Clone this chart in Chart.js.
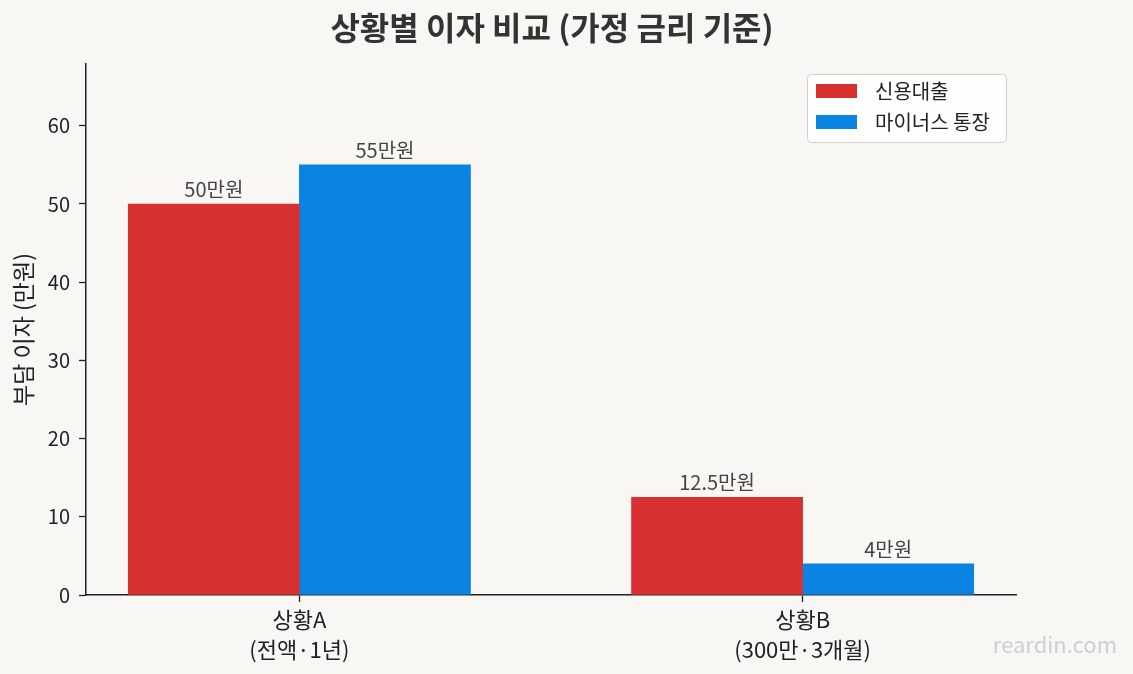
<!DOCTYPE html>
<html><head><meta charset="utf-8">
<script src="https://cdn.jsdelivr.net/npm/chart.js@4"></script>
<style>
html,body{margin:0;padding:0;background:#f8f7f3;}
#wrap{width:1133px;height:674px;position:relative;}
</style></head>
<body><div id="wrap"><canvas id="c" width="1133" height="674"></canvas></div>
<script>
const categories = [["상황A","(전액·1년)"],["상황B","(300만·3개월)"]];
const seriesNames = ["신용대출","마이너스 통장"];
const creditLoan = [50, 12.5];
const minusAccount = [55, 4];
const valueLabels = [["50만원","12.5만원"],["55만원","4만원"]];
const yTicks = [0,10,20,30,40,50,60];
const titleText = "상황별 이자 비교 (가정 금리 기준)";
const yTitle = "부담 이자 (만원)";
const watermark = "reardin.com";

const FONT = "'Noto Sans CJK KR','Noto Sans',sans-serif";
const BAR_W = 0.34;
const colors = ["#d63031","#0984e3"];
const seriesValues = [creditLoan, minusAccount];

const datasets = seriesValues.map((vals, s) => ({
  label: seriesNames[s],
  data: vals.map((v, i) => ({x: i + (s === 0 ? -BAR_W/2 : BAR_W/2), y: v})),
  backgroundColor: colors[s],
  borderWidth: 0,
  grouped: false,
  barPercentage: 1,
  categoryPercentage: 1
}));

const overlay = {
  id: 'overlay',
  afterDraw(chart) {
    const ctx = chart.ctx;
    ctx.save();
    // title
    ctx.fillStyle = '#333';
    ctx.font = `bold 32px ${FONT}`;
    ctx.textAlign = 'center';
    ctx.textBaseline = 'middle';
    ctx.fillText(titleText, 552, 28);
    // value labels
    ctx.font = `20px ${FONT}`;
    ctx.fillStyle = '#444';
    ctx.textBaseline = 'alphabetic';
    chart.data.datasets.forEach((ds, s) => {
      const meta = chart.getDatasetMeta(s);
      meta.data.forEach((bar, i) => {
        ctx.fillText(valueLabels[s][i], bar.x, bar.y - 7);
      });
    });
    // legend
    const lx = 807, ly = 74, lw = 199, lh = 68;
    ctx.beginPath();
    ctx.roundRect(lx + 0.5, ly + 0.5, lw, lh, 4);
    ctx.fillStyle = 'rgba(255,255,255,0.8)';
    ctx.fill();
    ctx.strokeStyle = '#d0d0d0';
    ctx.lineWidth = 1;
    ctx.stroke();
    ctx.font = `20px ${FONT}`;
    ctx.textAlign = 'left';
    ctx.textBaseline = 'middle';
    chart.data.datasets.forEach((ds, s) => {
      const cy = 91 + s * 31;
      ctx.fillStyle = ds.backgroundColor;
      ctx.fillRect(816, cy - 7, 41, 14);
      ctx.fillStyle = '#222';
      ctx.fillText(ds.label, 875, cy);
    });
    // watermark
    ctx.font = `22px ${FONT}`;
    ctx.fillStyle = '#cfcfcf';
    ctx.textAlign = 'right';
    ctx.fillText(watermark, 1117, 645);
    ctx.restore();
  }
};

new Chart(document.getElementById('c'), {
  type: 'bar',
  data: { datasets },
  options: {
    responsive: false,
    animation: false,
    layout: { padding: { top: 64, right: 117, left: 0, bottom: 0 } },
    plugins: { legend: { display: false }, tooltip: { enabled: false } },
    scales: {
      x: {
        type: 'linear',
        offset: false,
        min: -0.424, max: 1.424,
        afterBuildTicks(scale) { scale.ticks = categories.map((c, i) => ({value: i})); },
        afterFit(scale) { scale.height = 79; },
        ticks: {
          callback: (v) => categories[Math.round(v)],
          color: '#222',
          font: { family: FONT, size: 22, lineHeight: 1.38 },
          padding: 2,
          maxRotation: 0,
          autoSkip: false
        },
        grid: { offset: false, drawOnChartArea: false, drawTicks: true, tickLength: 7, color: '#222', tickWidth: 1.3 },
        border: { display: true, color: '#222', width: 1.5 }
      },
      y: {
        min: 0, max: 67.9,
        afterBuildTicks(scale) { scale.ticks = yTicks.map(v => ({value: v})); },
        afterFit(scale) { scale.width = 86; },
        ticks: { color: '#222', font: { family: FONT, size: 20 }, padding: 9 },
        grid: { drawOnChartArea: false, drawTicks: true, tickLength: 7, color: '#222', tickWidth: 1.3 },
        border: { display: true, color: '#222', width: 1.5 },
        title: { display: true, text: yTitle, color: '#222', font: { family: FONT, size: 23 }, padding: { top: 9, bottom: 0 } }
      }
    }
  },
  plugins: [overlay]
});
</script></body></html>
